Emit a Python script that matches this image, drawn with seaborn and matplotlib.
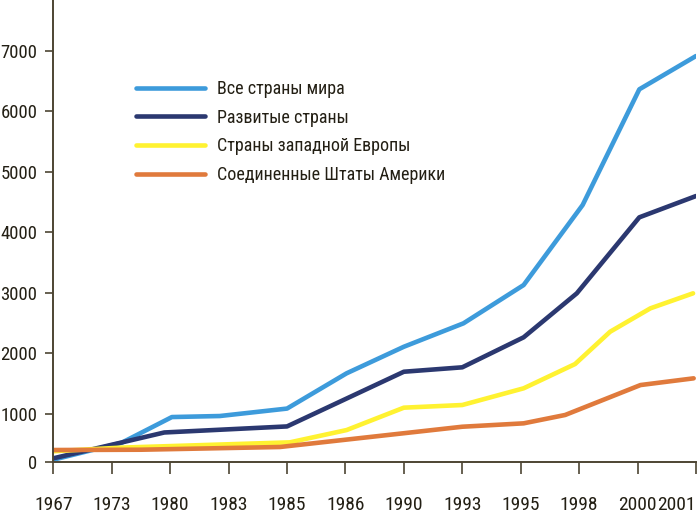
import matplotlib
matplotlib.use("Agg")
import matplotlib.pyplot as plt
from matplotlib import font_manager as fm
import seaborn as sns
import pandas as pd

# ---- data (x given in category-index units of the tick list) ----
tick_labels = ["1967", "1973", "1980", "1983", "1985", "1986",
               "1990", "1993", "1995", "1998", "2000", "2001"]

series_names = ["Все страны мира", "Развитые страны",
                "Страны западной Европы", "Соединенные Штаты Америки"]

world_x = [0, 1.17, 2.03, 2.85, 4.0, 5.02, 6.0, 7.02, 8.05, 9.06, 10.03, 11.0]
world_y = [240, 520, 945, 962, 1085, 1668, 2107, 2494, 3127, 4450, 6362, 6912]

developed_x = [0, 1.17, 1.9, 4.0, 6.0, 7.0, 8.05, 8.96, 10.03, 11.0]
developed_y = [263, 525, 690, 790, 1694, 1767, 2263, 2990, 4246, 4598]

europe_x = [0, 1.17, 2.0, 4.05, 5.02, 6.0, 7.0, 8.05, 8.93, 9.53, 10.22, 10.95]
europe_y = [380, 440, 465, 527, 730, 1100, 1144, 1420, 1821, 2355, 2742, 2990]

usa_x = [0, 1.5, 3.88, 7.0, 8.05, 8.76, 9.48, 10.05, 10.96]
usa_y = [400, 405, 450, 785, 841, 979, 1255, 1474, 1585]

y_tick_values = [1000, 2000, 3000, 4000, 5000, 6000, 7000]
Y_BOTTOM = 207
Y_TOP = 7838

colors = ["#3d9bdb", "#2b3870", "#fff231", "#e07a3c"]

frames = []
for name, xs, ys in zip(series_names,
                        [world_x, developed_x, europe_x, usa_x],
                        [world_y, developed_y, europe_y, usa_y]):
    frames.append(pd.DataFrame({"pos": xs, "value": ys, "series": name}))
df = pd.concat(frames, ignore_index=True)

sns.set_style("white")

# pick a narrow / condensed face if one is installed
family = ["DejaVu Sans"]
stretch = "normal"
narrow = None
for pref in ["Liberation Sans Narrow", "Roboto Condensed", "Open Sans Condensed"]:
    for f in fm.fontManager.ttflist:
        if f.name == pref and f.style == "normal":
            narrow = (f.name, f.stretch)
            break
    if narrow:
        break
if narrow is None:
    for f in fm.fontManager.ttflist:
        fn = f.fname.lower()
        if ("condensed" in fn or "narrow" in fn) and f.style == "normal" \
                and "bold" not in fn and "oblique" not in fn and "italic" not in fn \
                and "sans" in fn and "mono" not in fn:
            narrow = (f.name, f.stretch)
            break
if narrow is not None:
    family = [narrow[0], "DejaVu Sans"]
    stretch = narrow[1]
plt.rcParams["font.family"] = family
plt.rcParams["font.stretch"] = stretch

fig = plt.figure(figsize=(7.0, 5.17), dpi=100)
ax = fig.add_axes([53.3 / 700, 55.3 / 517, (696 - 53.3) / 700, (517 - 55.3) / 517])

sns.lineplot(data=df, x="pos", y="value", hue="series", hue_order=series_names,
             palette=colors, estimator=None, sort=False, linewidth=3.3,
             ax=ax, legend=True)

ax.set_xlim(0, 11)
ax.set_ylim(Y_BOTTOM, Y_TOP)

axis_color = "#4d4533"
text_color = "#231f14"
for s in ["top", "right"]:
    ax.spines[s].set_visible(False)
for s in ["left", "bottom"]:
    ax.spines[s].set_color(axis_color)
    ax.spines[s].set_linewidth(1.4)

ax.set_xticks(range(len(tick_labels)))
ax.set_xticklabels(tick_labels)
ax.set_yticks([Y_BOTTOM] + y_tick_values)
ax.set_yticklabels(["0"] + [str(v) for v in y_tick_values])
ax.yaxis.get_major_ticks()[0].tick1line.set_visible(False)

ax.tick_params(axis="x", direction="out", length=8.3, width=1.2, color=axis_color,
               pad=16.5, labelsize=14, labelcolor=text_color, bottom=True)
ax.tick_params(axis="y", direction="out", length=5.8, width=1.2, color=axis_color,
               pad=5.5, labelsize=13.5, labelcolor=text_color, left=True)
xt = ax.get_xticklabels()
xt[-1].set_horizontalalignment("right")
xt[-1].set_x(11.25)

ax.set_xlabel("")
ax.set_ylabel("")
ax.grid(False)

handles, labels = ax.get_legend_handles_labels()
leg = ax.legend(handles, labels, loc="upper left",
                bbox_to_anchor=(136 / 700, 1 - 80 / 517),
                bbox_transform=fig.transFigure, frameon=False,
                borderpad=0, borderaxespad=0, handlelength=3.8,
                handletextpad=0.7, labelspacing=0.59, fontsize=13)
for t in leg.get_texts():
    t.set_color(text_color)
for h in leg.get_lines():
    h.set_linewidth(3.3)

fig.savefig("out.png", dpi=100)
